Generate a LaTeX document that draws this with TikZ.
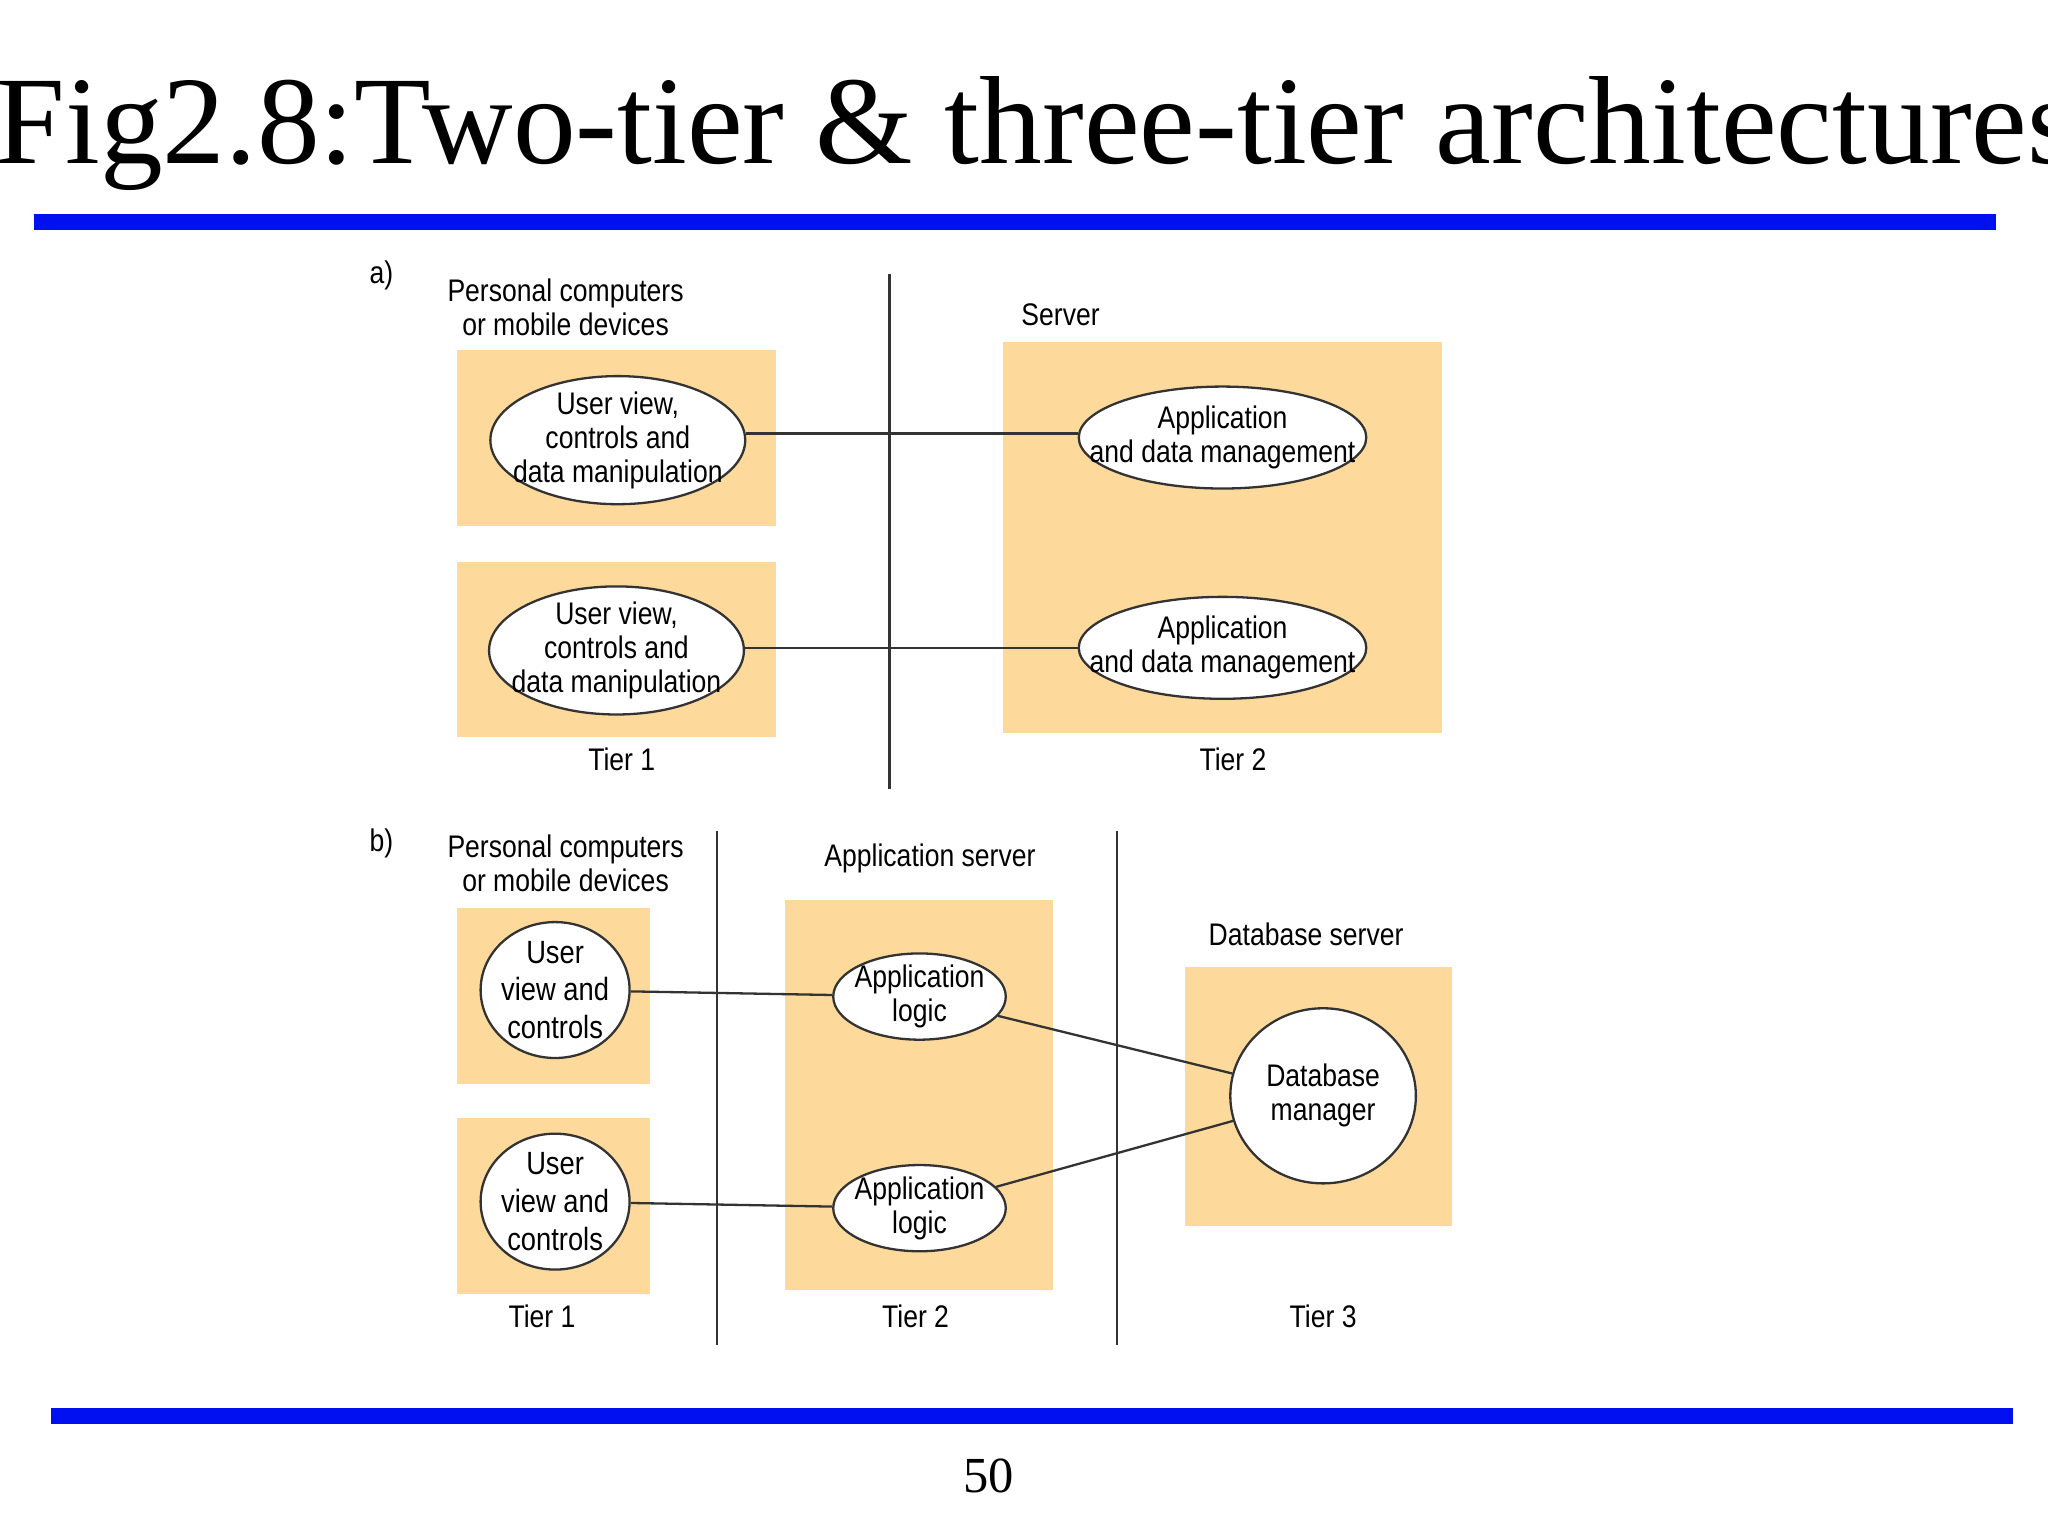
\documentclass[tikz,border=0pt]{standalone}
\usepackage{fontspec}
\setmainfont{Liberation Serif}
\newfontfamily\cond[FakeStretch=0.85]{Liberation Sans}
\usetikzlibrary{shapes.geometric}
\definecolor{tan}{HTML}{FDDA9C}
\definecolor{blu}{HTML}{0010F0}
\tikzset{
 lab/.style={font=\cond\fontsize{6.8}{7.4}\selectfont,align=center,inner sep=0pt},
 box/.style={fill=tan,draw=none},
 ell/.style={ellipse,draw=black!80,line width=0.5pt,fill=white,inner sep=0pt},
 conn/.style={draw=black!80,line width=0.5pt},
 bar/.style={draw=blu,line width=3.4pt}
}
\begin{document}
\begin{tikzpicture}[x=0.01cm,y=-0.01cm]
\useasboundingbox[fill=white] (0,0) rectangle (1568,1176);
\node[anchor=base west,inner sep=0pt,font=\fontsize{27.3}{29}\selectfont] (title) at (-4,125) {Fig2.8:Two-tier \& three-tier architectures};
\draw[bar] (26,170) -- (1528,170);
\draw[bar] (39,1084) -- (1541,1084);
\node[font=\fontsize{11}{12}\selectfont] (pg) at (757,1130) {50};
% a
\node[lab] (la) at (292,211) {a)};
\node[lab] (pca) at (433,235) {Personal computers\\or mobile devices};
\fill[box] (350,268) rectangle (594,403);
\fill[box] (350,430) rectangle (594,564);
\node[ell,minimum width=1.95cm,minimum height=0.98cm,label={[lab]center:User view,\\controls and\\data manipulation}] (u1) at (473,337) {};
\node[ell,minimum width=1.95cm,minimum height=0.98cm,label={[lab]center:User view,\\controls and\\data manipulation}] (u2) at (472,498) {};
\node[lab] (t1a) at (476,581) {Tier 1};
\draw[conn] (681,210) -- (681,604);
\node[lab] (srv) at (812,241) {Server};
\fill[box] (768,262) rectangle (1104,561);
\node[ell,minimum width=2.2cm,minimum height=0.78cm,label={[lab]center:Application\\and data management}] (a1) at (936,335) {};
\node[ell,minimum width=2.2cm,minimum height=0.78cm,label={[lab]center:Application\\and data management}] (a2) at (936,496) {};
\node[lab] (t2a) at (944,581) {Tier 2};
\draw[conn] (u1.east |- 0,332) -- (a1.west |- 0,332);
\draw[conn] (u2.east |- 0,496) -- (a2.west |- 0,496);
% b
\node[lab] (lb) at (292,646) {b)};
\node[lab] (pcb) at (433,661) {Personal computers\\or mobile devices};
\fill[box] (350,695) rectangle (498,830);
\fill[box] (350,856) rectangle (498,991);
\node[ell,minimum width=1.14cm,minimum height=1.04cm,label={[lab,font=\cond\fontsize{7}{8.2}\selectfont]center:User\\view and\\controls}] (v1) at (425,758) {};
\node[ell,minimum width=1.14cm,minimum height=1.04cm,label={[lab,font=\cond\fontsize{7}{8.2}\selectfont]center:User\\view and\\controls}] (v2) at (425,920) {};
\node[lab] (t1b) at (415,1008) {Tier 1};
\draw[conn] (549,636) -- (549,1030);
\draw[conn] (855,636) -- (855,1030);
\node[lab] (as) at (712,657) {Application server};
\fill[box] (601,689) rectangle (806,988);
\node[ell,minimum width=1.32cm,minimum height=0.66cm,label={[lab]center:Application\\logic}] (p1) at (704,763) {};
\node[ell,minimum width=1.32cm,minimum height=0.66cm,label={[lab]center:Application\\logic}] (p2) at (704,925) {};
\node[lab] (t2b) at (701,1008) {Tier 2};
\node[lab] (ds) at (1000,715) {Database server};
\fill[box] (907,740) rectangle (1112,939);
\node[ell,minimum width=1.42cm,minimum height=1.34cm,label={[lab]center:Database\\manager}] (db) at (1013,839) {};
\node[lab] (t3b) at (1013,1008) {Tier 3};
\draw[conn] (v1) -- (p1);
\draw[conn] (v2) -- (p2);
\draw[conn] (p1) -- (db);
\draw[conn] (p2) -- (db);
\end{tikzpicture}
\end{document}
